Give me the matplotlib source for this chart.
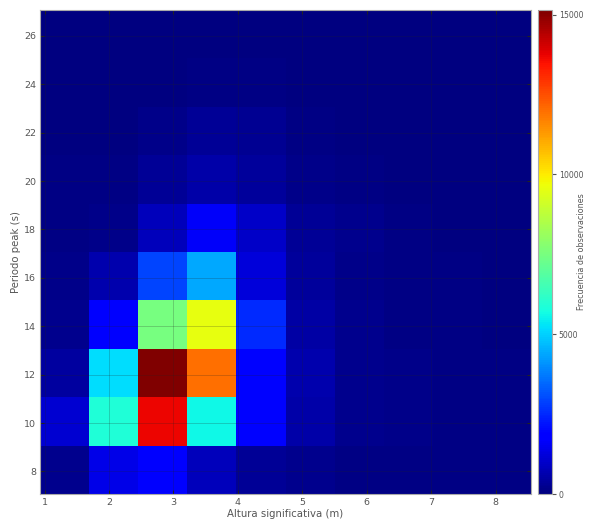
import numpy as np
import matplotlib
matplotlib.use("Agg")
import matplotlib.pyplot as plt

# Bin edges of the 2D histogram (significant height vs peak period)
x_edges = np.linspace(0.93, 8.55, 11)
y_edges = np.linspace(7.07, 27.07, 11)

# Counts per bin: one list per period row (bottom to top), one value per height column
row_07 = [180, 1400, 1700, 800, 300, 200, 100, 90, 80, 70]
row_09 = [1100, 5900, 13700, 5600, 1950, 550, 220, 160, 90, 70]
row_11 = [450, 5150, 15150, 12000, 1900, 600, 200, 120, 80, 60]
row_13 = [200, 1750, 7500, 9550, 2500, 500, 180, 100, 70, 50]
row_15 = [150, 650, 2900, 4400, 1200, 400, 150, 90, 60, 40]
row_17 = [100, 120, 800, 1600, 1000, 300, 200, 80, 50, 30]
row_19 = [60, 90, 300, 550, 400, 150, 90, 50, 30, 20]
row_21 = [40, 50, 120, 300, 250, 80, 50, 30, 20, 10]
row_23 = [20, 30, 50, 80, 60, 40, 30, 20, 10, 5]
row_25 = [10, 15, 20, 30, 20, 15, 10, 10, 5, 5]

counts = np.array([row_07, row_09, row_11, row_13, row_15,
                   row_17, row_19, row_21, row_23, row_25], dtype=float)

x_ticks = [1, 2, 3, 4, 5, 6, 7, 8]
y_ticks = [8, 10, 12, 14, 16, 18, 20, 22, 24, 26]
cbar_ticks = [0, 5000, 10000, 15000]

txt = "#555555"
plt.rcParams["font.family"] = ["DejaVu Sans"]

fig = plt.figure(figsize=(5.89, 5.2), dpi=100)
ax = fig.add_axes([0.068, 0.05, 0.8335, 0.931])
cax = fig.add_axes([0.913, 0.05, 0.024, 0.931])

mesh = ax.pcolormesh(x_edges, y_edges, counts, cmap="jet",
                     vmin=0, vmax=counts.max())
ax.set_xlim(x_edges[0], x_edges[-1])
ax.set_ylim(y_edges[0], y_edges[-1])
ax.set_xticks(x_ticks)
ax.set_yticks(y_ticks)
ax.grid(True, color="#222222", alpha=0.25, linewidth=0.6)
ax.tick_params(direction="in", top=True, right=True, length=3, pad=3,
               labelsize=6.8, colors="#222222", labelcolor=txt)
for s in ax.spines.values():
    s.set_color("#aaaaaa")
ax.set_xlabel("Altura significativa (m)", fontsize=7.3, color=txt, labelpad=1)
ax.set_ylabel("Periodo peak (s)", fontsize=7.3, color=txt, labelpad=2)

cb = fig.colorbar(mesh, cax=cax, ticks=cbar_ticks)
cb.outline.set_edgecolor("#aaaaaa")
cb.ax.tick_params(labelsize=5.6, labelcolor=txt, length=3, pad=2,
                  colors="#555555")

# Colorbar title placed in figure coordinates so it stays inside the canvas
fig.text(0.9865, 0.05 + 0.931 / 2, "Frecuencia de observaciones",
         rotation=90, ha="center", va="center", fontsize=5.8, color=txt)

fig.savefig("out.png", dpi=100)
